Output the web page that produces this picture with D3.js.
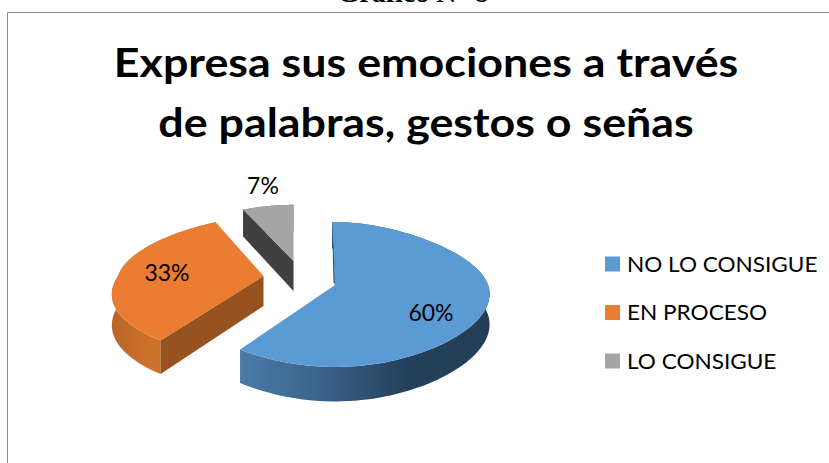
<!DOCTYPE html>
<html lang="es">
<head>
<meta charset="utf-8">
<style>
  html, body { margin: 0; padding: 0; background: #fff; }
  svg { display: block; }
  text { font-family: Lato, sans-serif; fill: #000; }
</style>
</head>
<body>
<svg width="829" height="463"></svg>
<script src="https://d3js.org/d3.v7.min.js"></script>
<script>
const categories = ["NO LO CONSIGUE", "EN PROCESO", "LO CONSIGUE"];
const values = [60, 33, 7];
const labels = ["60%", "33%", "7%"];
const titleLines = ["Expresa sus emociones a través", "de palabras, gestos o señas"];
const pageHeading = "Gráfico N° 8";

const topColors = ["#5b9bd5", "#ea7d31", "#a5a5a5"];
const radialWall = ["#2b4d6e", "#98521f", "#404040"];
const outerStops = [
  ["#4a7ba9", "#3a6288", "#25405a", "#233e56"],
  ["#b9652a", "#cc712c", "#d0752e", "#c06a29"],
  ["#6a6a6a", "#6a6a6a", "#6a6a6a", "#6a6a6a"]
];

// where each exploded slice has its point
const apexX = [335, 263.5, 293.5];
const apexY = [285, 276, 261];
const labelPos = [[431, 313], [167, 273], [263, 186]];
// small per slice corrections to the disc
const backY = [1, 0.93, 0.89];
const backSkew = [3, 0, 0];
const sliceWidth = [1, 0.95, 1];
const frontWiden = [0, 0.175, 0];

const radiusX = 140, radiusY = 71.3, persp = 0.13, depth = 30;

const svg = d3.select("svg");

// chart frame, cut off by the crop on the top and right
svg.append("path")
  .attr("d", "M7.5,463V12.5H829")
  .attr("fill", "none")
  .attr("stroke", "#8c8c8c")
  .attr("stroke-width", 1);

svg.append("text")
  .attr("x", 413).attr("y", 2)
  .attr("text-anchor", "middle")
  .style("font-family", "'Liberation Serif', serif")
  .style("font-weight", "bold")
  .style("font-size", "28px")
  .text(pageHeading);

// Lato is wider than the original face for its height, so stretch it a bit
svg.selectAll("text.title")
  .data(titleLines)
  .join("text")
  .attr("class", "title")
  .attr("transform", (d, i) => "translate(426," + (77 + i * 59.5) + ") scale(1.093,1)")
  .attr("text-anchor", "middle")
  .style("font-weight", "bold")
  .style("font-size", "41px")
  .text(d => d);

const defs = svg.append("defs");

// tilted disc: angle runs clockwise from the top
function project(angle, i, r = 1, drop = 0) {
  const u = Math.sin(angle) * r, v = -Math.cos(angle) * r;
  const w = 1 / (1 - persp * v);
  const wx = 0.847 + 0.2577 * (v + 0.9) - 0.1168 * (v + 0.9) * (v - 0.14);
  const back = v < 0 ? backY[i] : 1;
  const skew = v < 0 ? backSkew[i] * v : 0;
  const widen = v > 0 ? 1 + frontWiden[i] * v : 1;
  return [
    apexX[i] + radiusX * sliceWidth[i] * u * wx * widen + skew,
    apexY[i] + radiusY * v * w * back + depth * w * drop
  ];
}

const slices = d3.pie().sort(null)(values);
const outline = d3.line();

function rim(d, i, drop) {
  return d3.range(0, 101).map(k =>
    project(d.startAngle + (d.endAngle - d.startAngle) * k / 100, i, 1, drop));
}

// back slices first so the blue one ends on top
[2, 1, 0].forEach(i => {
  const d = slices[i];
  const g = svg.append("g").attr("class", "slice");
  const gradId = "outer" + i;
  const xr = d3.extent(rim(d, i, 0), p => p[0]);

  const grad = defs.append("linearGradient")
    .attr("id", gradId)
    .attr("gradientUnits", "userSpaceOnUse")
    .attr("x1", xr[0]).attr("x2", xr[1]).attr("y1", 0).attr("y2", 0);
  outerStops[i].forEach((c, k) => {
    grad.append("stop").attr("offset", k / 3).attr("stop-color", c);
  });

  g.append("path")
    .attr("d", outline(rim(d, i, 0).concat(rim(d, i, 1).reverse())) + "Z")
    .attr("fill", "url(#" + gradId + ")");

  // radial wall that faces the viewer, the blue slice has none at its cut
  if (i > 0) {
    const wallA = d.startAngle;
    g.append("path")
      .attr("d", outline([
        project(wallA, i, 1, 0), project(wallA, i, 0, 0),
        project(wallA, i, 0, 1), project(wallA, i, 1, 1)
      ]) + "Z")
      .attr("fill", radialWall[i]);
  }

  g.append("path")
    .attr("d", outline([project(d.startAngle, i, 0, 0)].concat(rim(d, i, 0))) + "Z")
    .attr("fill", topColors[i]);
});

// thin dark sliver along the start edge of the blue slice
const edgeInner = project(slices[0].startAngle, 0, 0, 0);
const edgeOuter = project(slices[0].startAngle, 0, 1, 0);
svg.append("path")
  .attr("d", outline([
    edgeOuter,
    [edgeOuter[0] + 1.5, edgeOuter[1] + 25],
    edgeInner,
    [edgeInner[0] - 1.5, edgeInner[1] - 3]
  ]) + "Z")
  .attr("fill", radialWall[0]);

svg.selectAll("text.pct")
  .data(labels)
  .join("text")
  .attr("class", "pct")
  .attr("x", (d, i) => labelPos[i][0])
  .attr("y", (d, i) => labelPos[i][1])
  .attr("dy", "0.35em")
  .attr("text-anchor", "middle")
  .style("font-size", "23px")
  .text(d => d);

const legendY = d3.scalePoint().domain(categories).range([264, 361]);
const legend = svg.selectAll("g.legend")
  .data(categories)
  .join("g")
  .attr("class", "legend")
  .attr("transform", d => "translate(605," + legendY(d) + ")");
legend.append("rect")
  .attr("x", 0).attr("y", -7.5).attr("width", 15).attr("height", 15)
  .attr("fill", (d, i) => topColors[i]);
legend.append("text")
  .attr("transform", "translate(22,0) scale(1.06,1)")
  .attr("dy", "0.36em")
  .style("font-size", "21.3px")
  .text(d => d);
</script>
</body>
</html>
